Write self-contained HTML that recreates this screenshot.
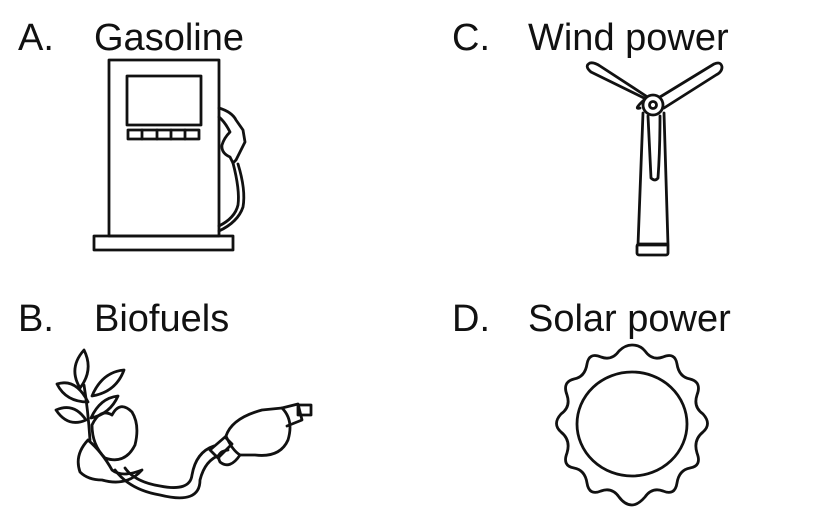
<!DOCTYPE html>
<html><head><meta charset="utf-8"><style>
html,body{margin:0;padding:0;background:#fff;}
svg{display:block;}
text{font-family:"Liberation Sans",sans-serif;font-size:38px;fill:#111;}
</style></head><body>
<svg width="828" height="525" viewBox="0 0 828 525" xmlns="http://www.w3.org/2000/svg">
<text x="18" y="50">A.</text><text x="94" y="50">Gasoline</text>
<text x="18" y="331">B.</text><text x="94" y="331">Biofuels</text>
<text x="452" y="50">C.</text><text x="528" y="50">Wind power</text>
<text x="452" y="331">D.</text><text x="528" y="331">Solar power</text>
<g fill="none" stroke="#111" stroke-width="2.8" stroke-linejoin="round" stroke-linecap="round">
<rect x="109" y="60" width="110" height="176"/>
<rect x="127" y="76" width="74" height="49"/>
<rect x="128" y="130" width="71" height="9"/>
<line x1="142" y1="130" x2="142" y2="139"/><line x1="157" y1="130" x2="157" y2="139"/><line x1="171" y1="130" x2="171" y2="139"/><line x1="185" y1="130" x2="185" y2="139"/>
<rect x="94" y="236" width="139" height="14"/>
<path d="M219 108 Q232 112 236 120 L243 130 L245 142 L240 152 L236 160 L233 163 L230 157 Q221 153 222 145 Q224 138 230 132 Q225 122 219 117"/>
<path d="M233 163 Q240 190 238 205 Q235 218 219 226"/>
<path d="M238 164 Q246 190 243 207 Q238 222 219 231"/>
<!-- biofuels -->
<path d="M84 350 Q68 368 80 388 Q94 370 84 350Z"/>
<path d="M57 384 Q76 378 88 402 Q66 402 57 384Z"/>
<path d="M124 370 Q102 372 92 396 Q116 392 124 370Z"/>
<path d="M56 410 Q74 402 86 420 Q68 428 56 410Z"/>
<path d="M118 396 Q100 398 91 418 Q110 414 118 396Z"/>
<path d="M84 385 Q88 410 90 440"/>
<path d="M92 425 Q100 408 112 415 Q120 400 132 412 Q140 425 135 445 Q125 465 105 458 Q92 445 92 425Z"/>
<path d="M80 472 Q74 455 88 440 Q102 452 112 470 Q122 478 142 470 Q127 487 102 480 Q88 480 80 472Z"/>
<path d="M115 470 Q130 490 160 495 Q200 505 200 480 Q205 460 220 455"/>
<path d="M125 468 Q135 482 160 486 Q190 492 192 475 Q196 452 214 446"/>
<path d="M210 450 L225 437 L232 444 L218 458Z"/>
<path d="M226 436 Q232 418 262 410 L282 408 Q294 420 288 440 Q280 458 255 455 L240 455 Q232 450 226 436Z"/>
<path d="M240 455 Q230 470 220 462 Q215 452 228 450"/>
<path d="M282 408 L298 404 L302 420 L287 426"/>
<rect x="298" y="405" width="13" height="10"/>
<!-- turbine -->
<circle cx="653" cy="105" r="10"/><circle cx="653" cy="105" r="3.5"/>
<path d="M644 98 L591 72 Q584 66 590 63 Q594 62 600 66 L646 96"/>
<path d="M644 100 Q633 110 640 108"/>
<path d="M660 97 L714 64 Q721 61 722 67 Q722 72 716 75 L664 108"/>
<path d="M643 113 L638 245 L668 245 L664 113"/>
<path d="M648 116 Q650 160 651 178 Q655 182 658 178 Q660 150 660 116"/>
<rect x="637" y="244" width="31" height="11" rx="2"/>
<ellipse cx="632" cy="424" rx="55" ry="52"/>
</g>
<path fill="none" stroke="#111" stroke-width="2.8" d="
M632,345 Q640,345 645,351 Q652,361 663,357 Q675,352 677,364 Q679,377 690,379 Q702,382 697,395 Q693,407 703,414 Q712,424 703,432 Q693,440 697,453 Q702,466 690,468 Q679,470 677,483 Q675,496 663,491 Q652,487 645,497 Q638,505 632,505 Q625,505 619,497 Q612,487 601,491 Q589,496 587,483 Q585,470 574,468 Q562,466 567,453 Q571,440 561,432 Q552,424 561,414 Q571,407 567,395 Q562,382 574,379 Q585,377 587,364 Q589,352 601,357 Q612,361 619,351 Q625,345 632,345Z"/>
</svg>
</body></html>
